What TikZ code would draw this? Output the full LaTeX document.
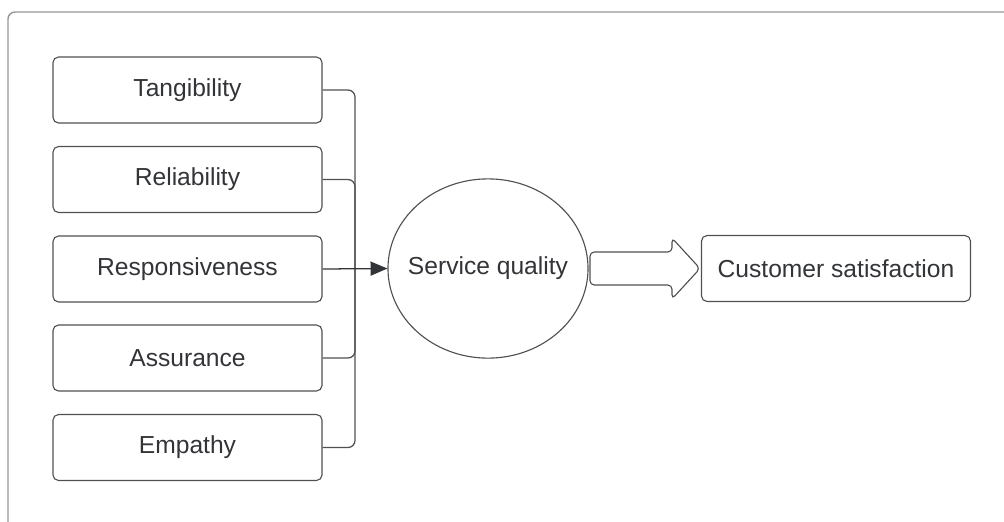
\documentclass[tikz,border=0pt]{standalone}
\usepackage{fontspec}
\setmainfont{Liberation Sans}
\usetikzlibrary{shapes.geometric, arrows.meta}

\definecolor{linegray}{RGB}{80,80,80}
\definecolor{textgray}{RGB}{50,52,56}
\definecolor{framegray}{RGB}{150,150,150}

\begin{document}
\begin{tikzpicture}[x=0.025cm, y=-0.025cm,
	factor/.style={rectangle, draw=linegray, line width=0.8pt, rounded corners=4pt, minimum width=6.725cm, minimum height=1.65cm, text=textgray, font=\fontsize{17.5}{21}\selectfont},
	link/.style={draw=linegray, line width=0.9pt, rounded corners=5pt}]
	\useasboundingbox (0,0) rectangle (1004,521);
	\clip (0,0) rectangle (1004,521);
	\draw[framegray, line width=1pt, rounded corners=5pt] (8,12) rectangle (1030,560);

	\node at (187.5,90) [factor] (tang) {Tangibility};
	\node at (187.5,179.5) [factor] (reli) {Reliability};
	\node at (187.5,269) [factor] (resp) {Responsiveness};
	\node at (187.5,358) [factor] (assu) {Assurance};
	\node at (187.5,447.5) [factor] (empa) {Empathy};
	\node at (488,268.5) [ellipse, draw=linegray, line width=0.8pt, inner sep=0pt, minimum width=5cm, minimum height=4.48cm, text=textgray, font=\fontsize{17.5}{21}\selectfont] (sq) {\makebox[0pt]{Service quality}};
	\node at (836,268.5) [factor] (cs) {Customer satisfaction};
	\coordinate (join) at (355,269);

	\draw[link] (tang.east) -| (join);
	\draw[link] (reli.east) -| (join);
	\draw[link] (assu.east) -| (join);
	\draw[link] (empa.east) -| (join);
	\draw[link, draw=textgray, -{Triangle[length=12pt, width=10pt]}] (resp.east) -- (sq.west);

	% big arrow
	\draw[linegray, line width=0.8pt, rounded corners=3pt] (590,252) -- (672,252) -- (672,238) -- (700,268.5) -- (672,299) -- (672,285) -- (590,285) -- cycle;
\end{tikzpicture}
\end{document}
